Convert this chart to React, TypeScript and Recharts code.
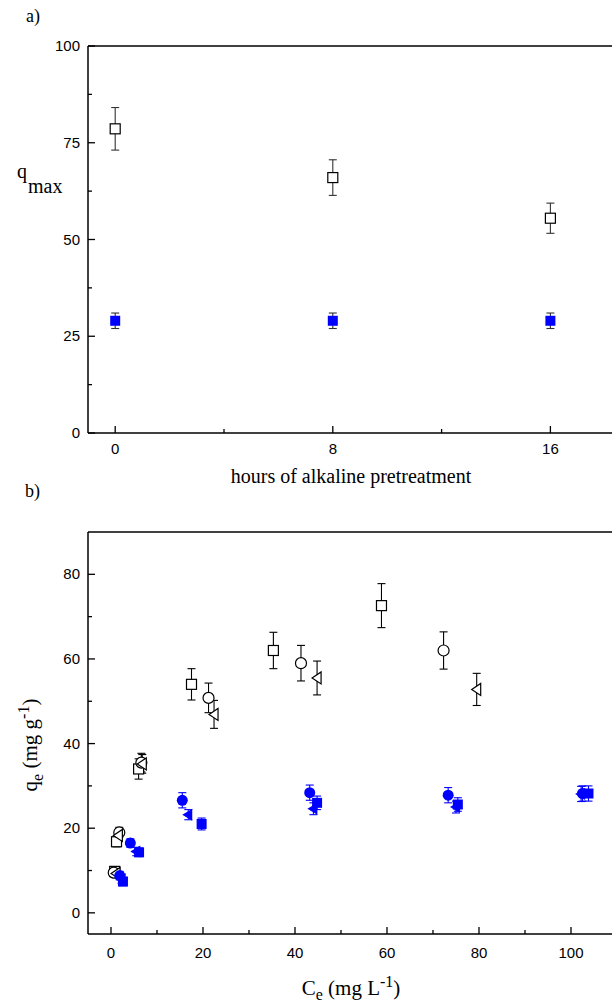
import { ScatterChart, Scatter, XAxis, YAxis, ErrorBar } from 'recharts';

// panel a: q_max against pretreatment time
const hours = [0, 8, 16];
const qmaxOpen = [78.6, 66.0, 55.5];
const qmaxOpenErr = [5.5, 4.6, 3.9];
const qmaxFilled = [29.0, 29.0, 29.0];
const qmaxFilledErr = [2.0, 2.0, 2.0];

// panel b: isotherms, open = black, filled = blue
const ceOpenSquare = [0.8, 1.2, 6.0, 17.5, 35.3, 58.8];
const qeOpenSquare = [9.8, 16.8, 34.0, 54.0, 62.0, 72.6];
const errOpenSquare = [1.0, 1.2, 2.4, 3.7, 4.3, 5.2];

const ceOpenCircle = [0.6, 1.8, 6.6, 21.2, 41.3, 72.3];
const qeOpenCircle = [9.5, 19.0, 35.5, 50.8, 59.0, 62.0];
const errOpenCircle = [1.0, 1.2, 2.2, 3.5, 4.2, 4.4];

const ceOpenTri = [1.1, 1.6, 6.8, 22.4, 44.8, 79.5];
const qeOpenTri = [9.3, 18.3, 35.2, 46.9, 55.5, 52.8];
const errOpenTri = [1.0, 1.2, 2.2, 3.3, 4.0, 3.8];

const ceBlueCircle = [1.9, 4.2, 15.5, 43.2, 73.3, 102.5];
const qeBlueCircle = [8.8, 16.5, 26.6, 28.4, 27.8, 28.2];
const errBlueCircle = [1.0, 1.0, 1.8, 1.8, 1.8, 1.8];

const ceBlueTri = [2.3, 5.5, 16.8, 44.0, 75.0, 102.2];
const qeBlueTri = [8.0, 14.5, 23.2, 24.6, 25.0, 28.1];
const errBlueTri = [1.0, 1.0, 1.2, 1.4, 1.4, 1.8];

const ceBlueSquare = [2.6, 6.1, 19.7, 44.8, 75.4, 103.8];
const qeBlueSquare = [7.4, 14.3, 21.0, 26.0, 25.6, 28.2];
const errBlueSquare = [1.0, 1.0, 1.4, 1.6, 1.6, 1.8];

const xTicksA = [0, 4, 8, 12, 16];
const xMajorA = [0, 8, 16];
const yTicksA = [0, 12.5, 25, 37.5, 50, 62.5, 75, 87.5, 100];
const yMajorA = [0, 25, 50, 75, 100];

const xTicksB = [0, 10, 20, 30, 40, 50, 60, 70, 80, 90, 100, 110];
const xMajorB = [0, 20, 40, 60, 80, 100];
const yTicksB = [0, 10, 20, 30, 40, 50, 60, 70, 80];
const yMajorB = [0, 20, 40, 60, 80];

const rows = (xs: number[], ys: number[], es: number[]) =>
  xs.map((x, i) => ({ x, y: ys[i], err: es[i] }));

const BLUE = '#0000ff';
const TICK_FONT = "'Liberation Sans', Arial, sans-serif";
const TITLE_FONT = "'Liberation Serif', 'Times New Roman', serif";

const openSquare = (p: any) => (
  <rect x={p.cx - 5} y={p.cy - 5} width={10} height={10} fill="#fff" stroke="#000" strokeWidth={1.2} />
);
const openCircle = (p: any) => <circle cx={p.cx} cy={p.cy} r={5.5} fill="#fff" stroke="#000" strokeWidth={1.2} />;
const openTri = (p: any) => (
  <polygon
    points={`${p.cx - 5},${p.cy} ${p.cx + 4},${p.cy - 6} ${p.cx + 4},${p.cy + 6}`}
    fill="#fff"
    stroke="#000"
    strokeWidth={1.2}
  />
);
const blueSquare = (p: any) => <rect x={p.cx - 5} y={p.cy - 5} width={10} height={10} fill={BLUE} />;
const blueCircle = (p: any) => <circle cx={p.cx} cy={p.cy} r={5.5} fill={BLUE} />;
const blueTri = (p: any) => (
  <polygon points={`${p.cx - 6},${p.cy} ${p.cx + 4},${p.cy - 6} ${p.cx + 4},${p.cy + 6}`} fill={BLUE} />
);

// ticks drawn inward, labels only on majors
const makeTick = (orient: string, majors: number[], labels: boolean, labelGap: number) => (props: any) => {
  const { x, y, payload } = props;
  const v = payload.value;
  const major = majors.includes(v);
  const len = major ? 7 : 4;
  const line = { stroke: '#000', strokeWidth: 1.3 };
  if (orient === 'bottom')
    return (
      <g>
        <line x1={x} y1={y} x2={x} y2={y - len} {...line} />
        {labels && major && (
          <text x={x} y={y + labelGap} textAnchor="middle" fontFamily={TICK_FONT} fontSize={15} fill="#000">
            {v}
          </text>
        )}
      </g>
    );
  if (orient === 'top') return <line x1={x} y1={y} x2={x} y2={y + len} {...line} />;
  return (
    <g>
      <line x1={x} y1={y} x2={x + len} y2={y} {...line} />
      {labels && major && (
        <text x={x - 8} y={y + 5} textAnchor="end" fontFamily={TICK_FONT} fontSize={15} fill="#000">
          {v}
        </text>
      )}
    </g>
  );
};

const axisLine = { stroke: '#000', strokeWidth: 1.5 };

export default function App() {
  const errA = { dataKey: 'err', direction: 'y' as const, width: 4, stroke: '#333', strokeWidth: 1.1 };
  const errB = { dataKey: 'err', direction: 'y' as const, width: 4, strokeWidth: 1.1 };

  return (
    <div style={{ position: 'absolute', left: 0, top: 0, width: 612, height: 1007, overflow: 'hidden', background: '#fff' }}>
      <div style={{ position: 'absolute', left: 0, top: 0 }}>
        <ScatterChart width={660} height={480} margin={{ top: 45, left: 87, right: 28, bottom: 46 }}>
          <XAxis
            xAxisId={0}
            type="number"
            dataKey="x"
            domain={[-1, 19]}
            ticks={xTicksA}
            interval={0}
            height={1}
            tickSize={0}
            tickMargin={0}
            axisLine={axisLine}
            tickLine={false}
            tick={makeTick('bottom', xMajorA, true, 21)}
            allowDataOverflow
          />
          <XAxis
            xAxisId="top"
            orientation="top"
            type="number"
            domain={[-1, 19]}
            ticks={xTicksA}
            interval={0}
            height={1}
            tickSize={0}
            tickMargin={0}
            axisLine={axisLine}
            tickLine={false}
            tick={makeTick('top', xMajorA, false, 0)}
            allowDataOverflow
          />
          <YAxis
            yAxisId={0}
            type="number"
            dataKey="y"
            domain={[0, 100]}
            ticks={yTicksA}
            interval={0}
            width={1}
            tickSize={0}
            tickMargin={0}
            axisLine={axisLine}
            tickLine={false}
            tick={makeTick('left', yMajorA, true, 0)}
            allowDataOverflow
          />
          <Scatter data={rows(hours, qmaxOpen, qmaxOpenErr)} shape={openSquare} isAnimationActive={false}>
            <ErrorBar {...errA} />
          </Scatter>
          <Scatter data={rows(hours, qmaxFilled, qmaxFilledErr)} shape={blueSquare} isAnimationActive={false}>
            <ErrorBar {...errA} />
          </Scatter>
        </ScatterChart>
      </div>

      <div style={{ position: 'absolute', left: 0, top: 500 }}>
        <ScatterChart width={660} height={500} margin={{ top: 31, left: 87, right: 20, bottom: 65 }}>
          <XAxis
            xAxisId={0}
            type="number"
            dataKey="x"
            domain={[-5, 115]}
            ticks={xTicksB}
            interval={0}
            height={1}
            tickSize={0}
            tickMargin={0}
            axisLine={axisLine}
            tickLine={false}
            tick={makeTick('bottom', xMajorB, true, 24)}
            allowDataOverflow
          />
          <XAxis
            xAxisId="top"
            orientation="top"
            type="number"
            domain={[-5, 115]}
            ticks={xTicksB}
            interval={0}
            height={1}
            tickSize={0}
            tickMargin={0}
            axisLine={axisLine}
            tickLine={false}
            tick={makeTick('top', xMajorB, false, 0)}
            allowDataOverflow
          />
          <YAxis
            yAxisId={0}
            type="number"
            dataKey="y"
            domain={[-5, 90]}
            ticks={yTicksB}
            interval={0}
            width={1}
            tickSize={0}
            tickMargin={0}
            axisLine={axisLine}
            tickLine={false}
            tick={makeTick('left', yMajorB, true, 0)}
            allowDataOverflow
          />
          <Scatter data={rows(ceOpenSquare, qeOpenSquare, errOpenSquare)} shape={openSquare} isAnimationActive={false}>
            <ErrorBar {...errB} stroke="#000" />
          </Scatter>
          <Scatter data={rows(ceOpenCircle, qeOpenCircle, errOpenCircle)} shape={openCircle} isAnimationActive={false}>
            <ErrorBar {...errB} stroke="#000" />
          </Scatter>
          <Scatter data={rows(ceOpenTri, qeOpenTri, errOpenTri)} shape={openTri} isAnimationActive={false}>
            <ErrorBar {...errB} stroke="#000" />
          </Scatter>
          <Scatter data={rows(ceBlueCircle, qeBlueCircle, errBlueCircle)} shape={blueCircle} isAnimationActive={false}>
            <ErrorBar {...errB} stroke={BLUE} />
          </Scatter>
          <Scatter data={rows(ceBlueTri, qeBlueTri, errBlueTri)} shape={blueTri} isAnimationActive={false}>
            <ErrorBar {...errB} stroke={BLUE} />
          </Scatter>
          <Scatter data={rows(ceBlueSquare, qeBlueSquare, errBlueSquare)} shape={blueSquare} isAnimationActive={false}>
            <ErrorBar {...errB} stroke={BLUE} />
          </Scatter>
        </ScatterChart>
      </div>

      <div style={{ position: 'absolute', left: 26, top: 6, fontFamily: TITLE_FONT, fontSize: 18 }}>a)</div>
      <div style={{ position: 'absolute', left: 17, top: 160, fontFamily: TITLE_FONT, fontSize: 20 }}>q</div>
      <div style={{ position: 'absolute', left: 28, top: 175, fontFamily: TITLE_FONT, fontSize: 20 }}>max</div>
      <div
        style={{ position: 'absolute', left: 0, width: 702, top: 465, textAlign: 'center', fontFamily: TITLE_FONT, fontSize: 20 }}
      >
        hours of alkaline pretreatment
      </div>

      <div style={{ position: 'absolute', left: 25, top: 481, fontFamily: TITLE_FONT, fontSize: 18 }}>b)</div>
      <div
        style={{
          position: 'absolute',
          left: 31,
          top: 745,
          transform: 'translate(-50%, -50%) rotate(-90deg)',
          whiteSpace: 'nowrap',
          fontFamily: TITLE_FONT,
          fontSize: 21,
        }}
      >
        q<sub style={{ fontSize: 16 }}>e</sub> (mg g<sup style={{ fontSize: 16 }}>-1</sup>)
      </div>
      <div
        style={{ position: 'absolute', left: 0, width: 702, top: 973, textAlign: 'center', fontFamily: TITLE_FONT, fontSize: 21 }}
      >
        C<sub style={{ fontSize: 16 }}>e</sub> (mg L<sup style={{ fontSize: 16 }}>-1</sup>)
      </div>
    </div>
  );
}
